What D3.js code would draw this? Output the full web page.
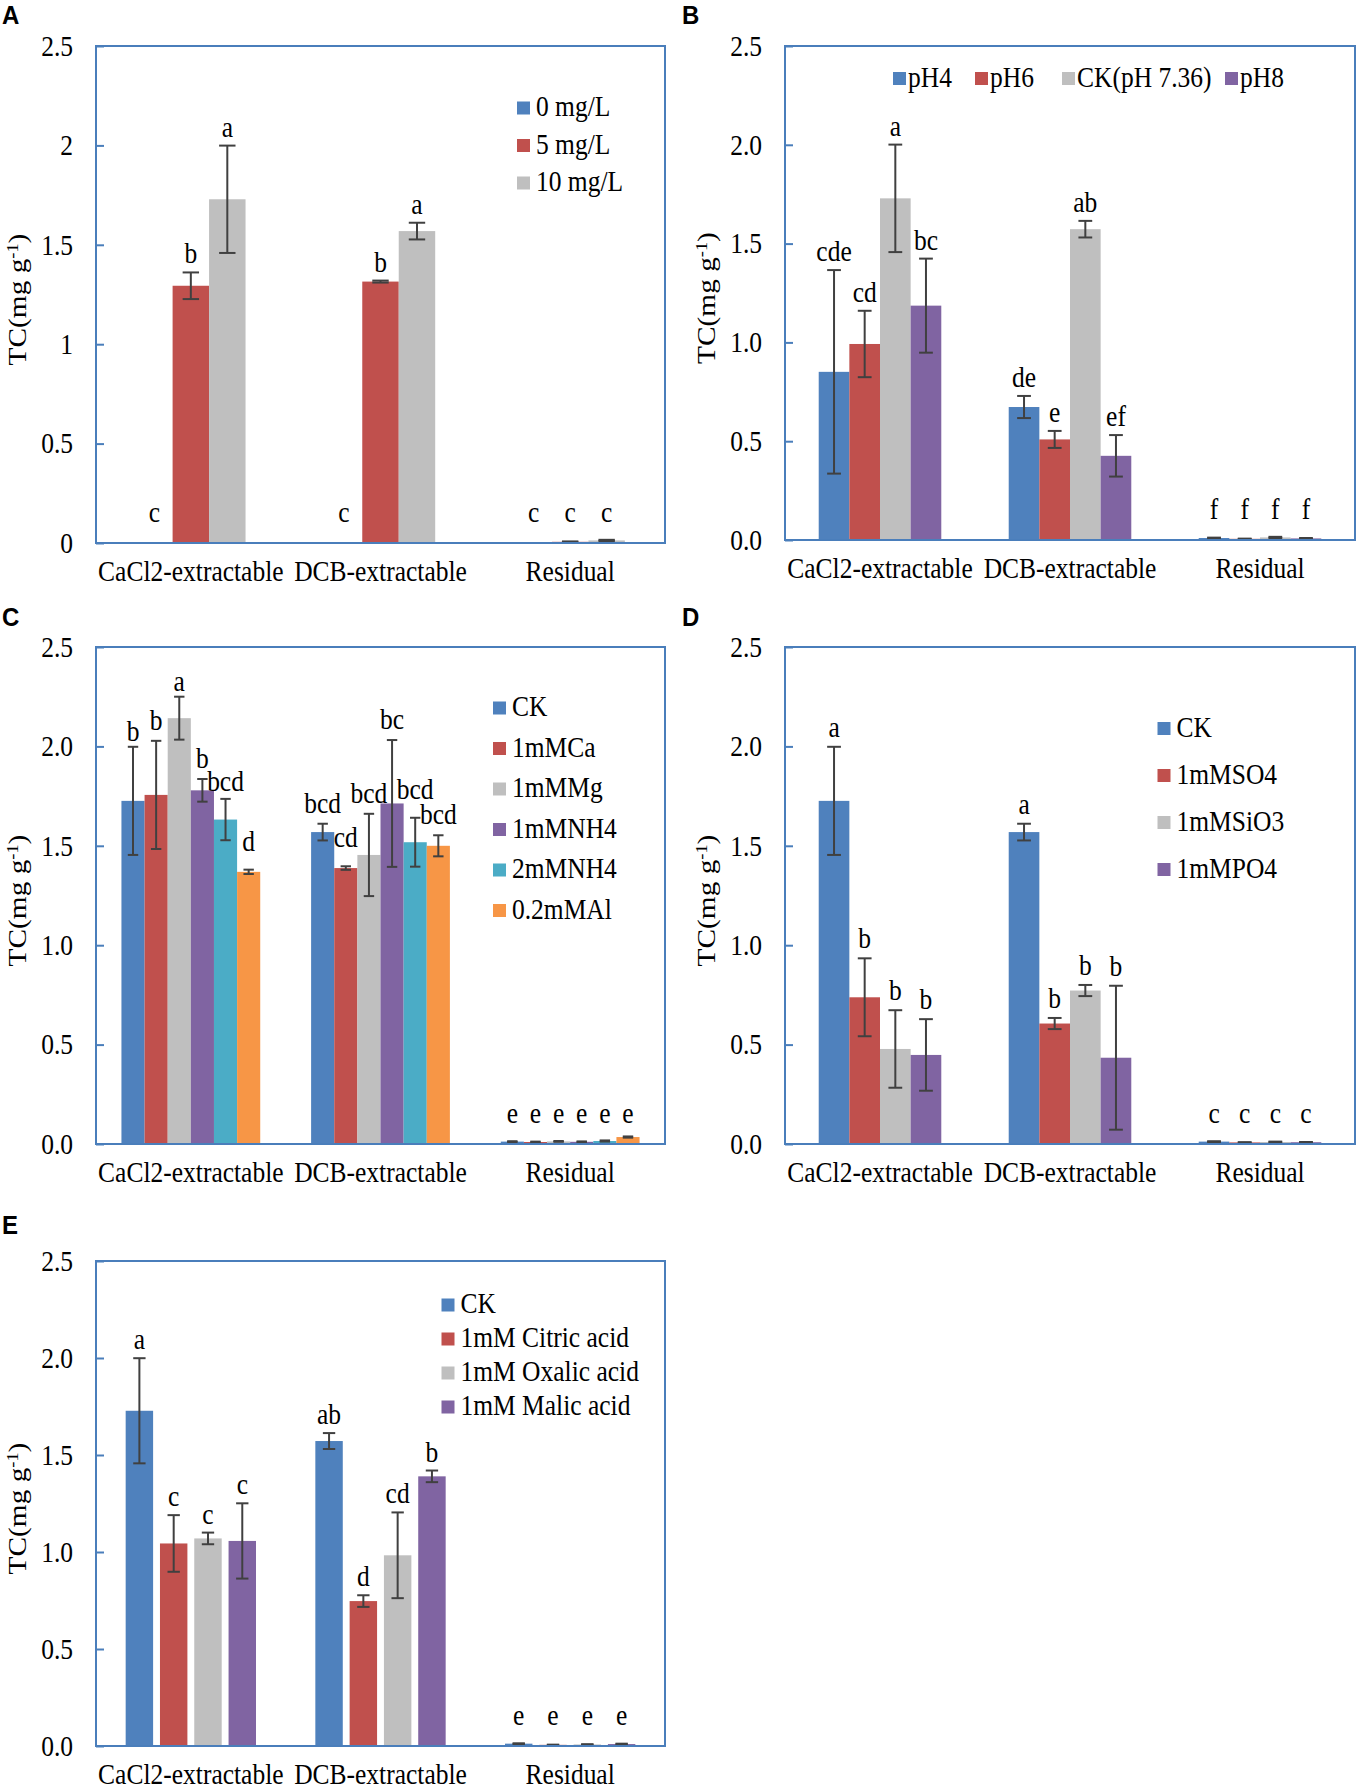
<!DOCTYPE html>
<html>
<head>
<meta charset="utf-8">
<script src="https://cdn.jsdelivr.net/npm/d3@7"></script>
<style>
body { margin: 0; background: #fff; }
text { font-family: "Liberation Serif", "Times New Roman", serif; }
</style>
</head>
<body>
<script>
var categories = ["CaCl2-extractable", "DCB-extractable", "Residual"];
var colors = ["#4F81BD", "#C0504D", "#BFBFBF", "#8064A2", "#4BACC6", "#F79646"];

// A: concentration
var seriesA = ["0 mg/L", "5 mg/L", "10 mg/L"];
var valuesA = [[0, 0, 0.002], [1.294, 1.315, 0.006], [1.729, 1.569, 0.013]];
var errorsA = [[0, 0, 0], [0.067, 0.005, 0.002], [0.27, 0.042, 0.003]];
var lettersA = [["c", "c", "c"], ["b", "b", "c"], ["a", "a", "c"]];

// B: pH
var seriesB = ["pH4", "pH6", "CK(pH 7.36)", "pH8"];
var valuesB = [[0.851, 0.673, 0.010], [0.992, 0.509, 0.006], [1.729, 1.573, 0.013], [1.186, 0.426, 0.008]];
var errorsB = [[0.515, 0.056, 0.002], [0.168, 0.043, 0.001], [0.272, 0.042, 0.003], [0.238, 0.105, 0.002]];
var lettersB = [["cde", "de", "f"], ["cd", "e", "f"], ["a", "ab", "f"], ["bc", "ef", "f"]];

// C: cations
var seriesC = ["CK", "1mMCa", "1mMMg", "1mMNH4", "2mMNH4", "0.2mMAl"];
var valuesC = [[1.726, 1.569, 0.012], [1.756, 1.388, 0.010], [2.142, 1.454, 0.013],
               [1.779, 1.713, 0.011], [1.632, 1.518, 0.015], [1.369, 1.500, 0.035]];
var errorsC = [[0.272, 0.042, 0.002], [0.272, 0.009, 0.002], [0.108, 0.207, 0.002],
               [0.057, 0.319, 0.002], [0.104, 0.123, 0.003], [0.011, 0.053, 0.003]];
var lettersC = [["b", "bcd", "e"], ["b", "cd", "e"], ["a", "bcd", "e"],
                ["b", "bc", "e"], ["bcd", "bcd", "e"], ["d", "bcd", "e"]];

// D: anions
var seriesD = ["CK", "1mMSO4", "1mMSiO3", "1mMPO4"];
var valuesD = [[1.726, 1.569, 0.012], [0.738, 0.606, 0.008], [0.478, 0.772, 0.010], [0.448, 0.434, 0.009]];
var errorsD = [[0.272, 0.042, 0.002], [0.196, 0.028, 0.001], [0.195, 0.028, 0.002], [0.18, 0.362, 0.001]];
var lettersD = [["a", "a", "c"], ["b", "b", "c"], ["b", "b", "c"], ["b", "b", "c"]];

// E: organic acids
var seriesE = ["CK", "1mM Citric acid", "1mM Oxalic acid", "1mM Malic acid"];
var valuesE = [[1.728, 1.572, 0.012], [1.044, 0.747, 0.006], [1.070, 0.983, 0.008], [1.057, 1.390, 0.010]];
var errorsE = [[0.271, 0.041, 0.002], [0.146, 0.03, 0.001], [0.03, 0.221, 0.001], [0.194, 0.03, 0.002]];
var lettersE = [["a", "ab", "e"], ["c", "d", "e"], ["c", "cd", "e"], ["c", "b", "e"]];

var yTicks = [0, 0.5, 1, 1.5, 2, 2.5];

var FONT = 25.5;
var SY = 1.15;          // the source figure is a bit taller than wide
var BORDER = "#4A7EBB";

var svg = d3.select("body").append("svg")
	.attr("width", 1358)
	.attr("height", 1789);

svg.append("rect").attr("width", 1358).attr("height", 1789).attr("fill", "#fff");

function putText(parent, x, y, str){
	return parent.append("text")
		.attr("transform", "translate(" + x + "," + y + ") scale(1," + SY + ")")
		.style("font-size", FONT + "px")
		.text(str);
}

function drawPanel(p){
	var g = svg.append("g");

	var y = d3.scaleLinear().domain([0, 2.5]).range([p.bottom, p.top]);
	var x = d3.scaleBand().domain(categories).range([p.left, p.right]);
	var inner = d3.scaleBand()
		.domain(d3.range(p.series.length))
		.range([0, x.bandwidth()])
		.paddingInner(p.padIn || 0)
		.paddingOuter(p.padOut || 1.1);
	var bw = inner.bandwidth();
	var nudge = p.nudge || {};

	// panel letter
	g.append("text")
		.attr("transform", "translate(" + p.lx + "," + p.ly + ") scale(1,1.05)")
		.style("font-family", "'Liberation Sans', Arial, sans-serif")
		.style("font-weight", "bold")
		.style("font-size", "24px")
		.text(p.letter);

	// bars
	p.series.forEach(function(name, i){
		categories.forEach(function(cat, j){
			var v = p.values[i][j];
			var e = p.errors[i][j];
			var bx = x(cat) + inner(i);
			var cx = bx + bw / 2;
			g.append("rect")
				.attr("x", bx)
				.attr("y", y(v))
				.attr("width", bw)
				.attr("height", y(0) - y(v))
				.attr("fill", colors[i]);

			if(e > 0){
				var cap = bw * 0.45 / 2;
				var lo = y(Math.max(0, v - e)), hi = y(v + e);
				var eg = g.append("g").attr("stroke", "#404040").attr("stroke-width", 2);
				eg.append("line").attr("x1", cx).attr("x2", cx).attr("y1", hi).attr("y2", lo);
				eg.append("line").attr("x1", cx - cap).attr("x2", cx + cap).attr("y1", hi).attr("y2", hi);
				eg.append("line").attr("x1", cx - cap).attr("x2", cx + cap).attr("y1", lo).attr("y2", lo);
			}

			var ty = Math.min(y(v + e) - (p.letterGap || 9), y(0) - 21) + (nudge[i + "," + j] || 0);
			putText(g, cx, ty, p.letters[i][j]).attr("text-anchor", "middle");
		});
	});

	// y axis with inward ticks
	var yAxis = d3.axisLeft(y)
		.tickValues(yTicks)
		.tickSize(-8)
		.tickPadding(23)
		.tickFormat(p.fmt);
	var ya = g.append("g").attr("transform", "translate(" + p.left + ",0)").call(yAxis);
	ya.select(".domain").remove();
	ya.selectAll("line").attr("stroke", BORDER).attr("stroke-width", 2);
	ya.selectAll("text")
		.attr("transform", "scale(1," + SY + ")")
		.style("font-size", FONT + "px")
		.style("font-family", "'Liberation Serif', serif")
		.attr("fill", "#000");

	var xAxis = d3.axisBottom(x).tickSize(0).tickPadding(15);
	var xa = g.append("g").attr("transform", "translate(0," + p.bottom + ")").call(xAxis);
	xa.select(".domain").remove();
	xa.selectAll("text")
		.attr("transform", "scale(1," + SY + ")")
		.style("font-size", FONT + "px")
		.style("font-family", "'Liberation Serif', serif")
		.attr("fill", "#000");

	// plot box
	g.append("rect")
		.attr("x", p.left).attr("y", p.top)
		.attr("width", p.right - p.left)
		.attr("height", p.bottom - p.top)
		.attr("fill", "none")
		.attr("stroke", BORDER)
		.attr("stroke-width", 2);

	// y title
	var t = g.append("text")
		.attr("transform", "translate(" + (p.left - 79) + "," + ((p.top + p.bottom) / 2 + 5) + ") rotate(-90) scale(" + SY + ",1)")
		.attr("text-anchor", "middle")
		.attr("dy", "0.35em")
		.style("font-size", FONT + "px");
	t.append("tspan").text("TC(mg g");
	t.append("tspan").attr("baseline-shift", "super").style("font-size", "16px").text("-1");
	t.append("tspan").text(")");

	// legend
	var lg = g.append("g");
	p.series.forEach(function(name, i){
		var mx = p.legend.xs ? p.legend.xs[i] : p.legend.x;
		var my = p.legend.xs ? p.legend.y : p.legend.y + i * p.legend.dy;
		lg.append("rect").attr("x", mx).attr("y", my - 6.5).attr("width", 13).attr("height", 13).attr("fill", colors[i]);
		putText(lg, mx + (p.legend.tx || 19), my + 8, name);
	});
}

var fmt1 = d3.format(".1f");

drawPanel({letter: "A", lx: 2, ly: 24, left: 96, top: 46, right: 665, bottom: 543,
	series: seriesA, values: valuesA, errors: errorsA, letters: lettersA,
	fmt: function(d){ return String(d); },
	legend: {x: 517, y: 108, dy: 37.5}});

drawPanel({letter: "B", lx: 682, ly: 24, left: 785, top: 46, right: 1355, bottom: 540,
	series: seriesB, values: valuesB, errors: errorsB, letters: lettersB,
	fmt: fmt1,
	legend: {xs: [893, 975, 1062, 1225], y: 78.5, tx: 15}});

drawPanel({letter: "C", lx: 2, ly: 626, left: 96, top: 647, right: 665, bottom: 1144,
	series: seriesC, values: valuesC, errors: errorsC, letters: lettersC,
	fmt: fmt1, letterGap: 11,
	nudge: {"4,1": -8, "1,1": -8, "5,0": -8, "4,0": 3, "0,0": 5, "2,0": 5},
	legend: {x: 493, y: 708, dy: 40.5}});

drawPanel({letter: "D", lx: 682, ly: 626, left: 785, top: 647, right: 1355, bottom: 1144,
	series: seriesD, values: valuesD, errors: errorsD, letters: lettersD,
	fmt: fmt1, letterGap: 10,
	legend: {x: 1157.5, y: 728.5, dy: 47}});

drawPanel({letter: "E", lx: 2, ly: 1234, left: 96, top: 1261, right: 665, bottom: 1746,
	series: seriesE, values: valuesE, errors: errorsE, letters: lettersE,
	fmt: fmt1, padIn: 0.2, padOut: 0.865,
	legend: {x: 441.5, y: 1305, dy: 34}});
</script>
</body>
</html>
